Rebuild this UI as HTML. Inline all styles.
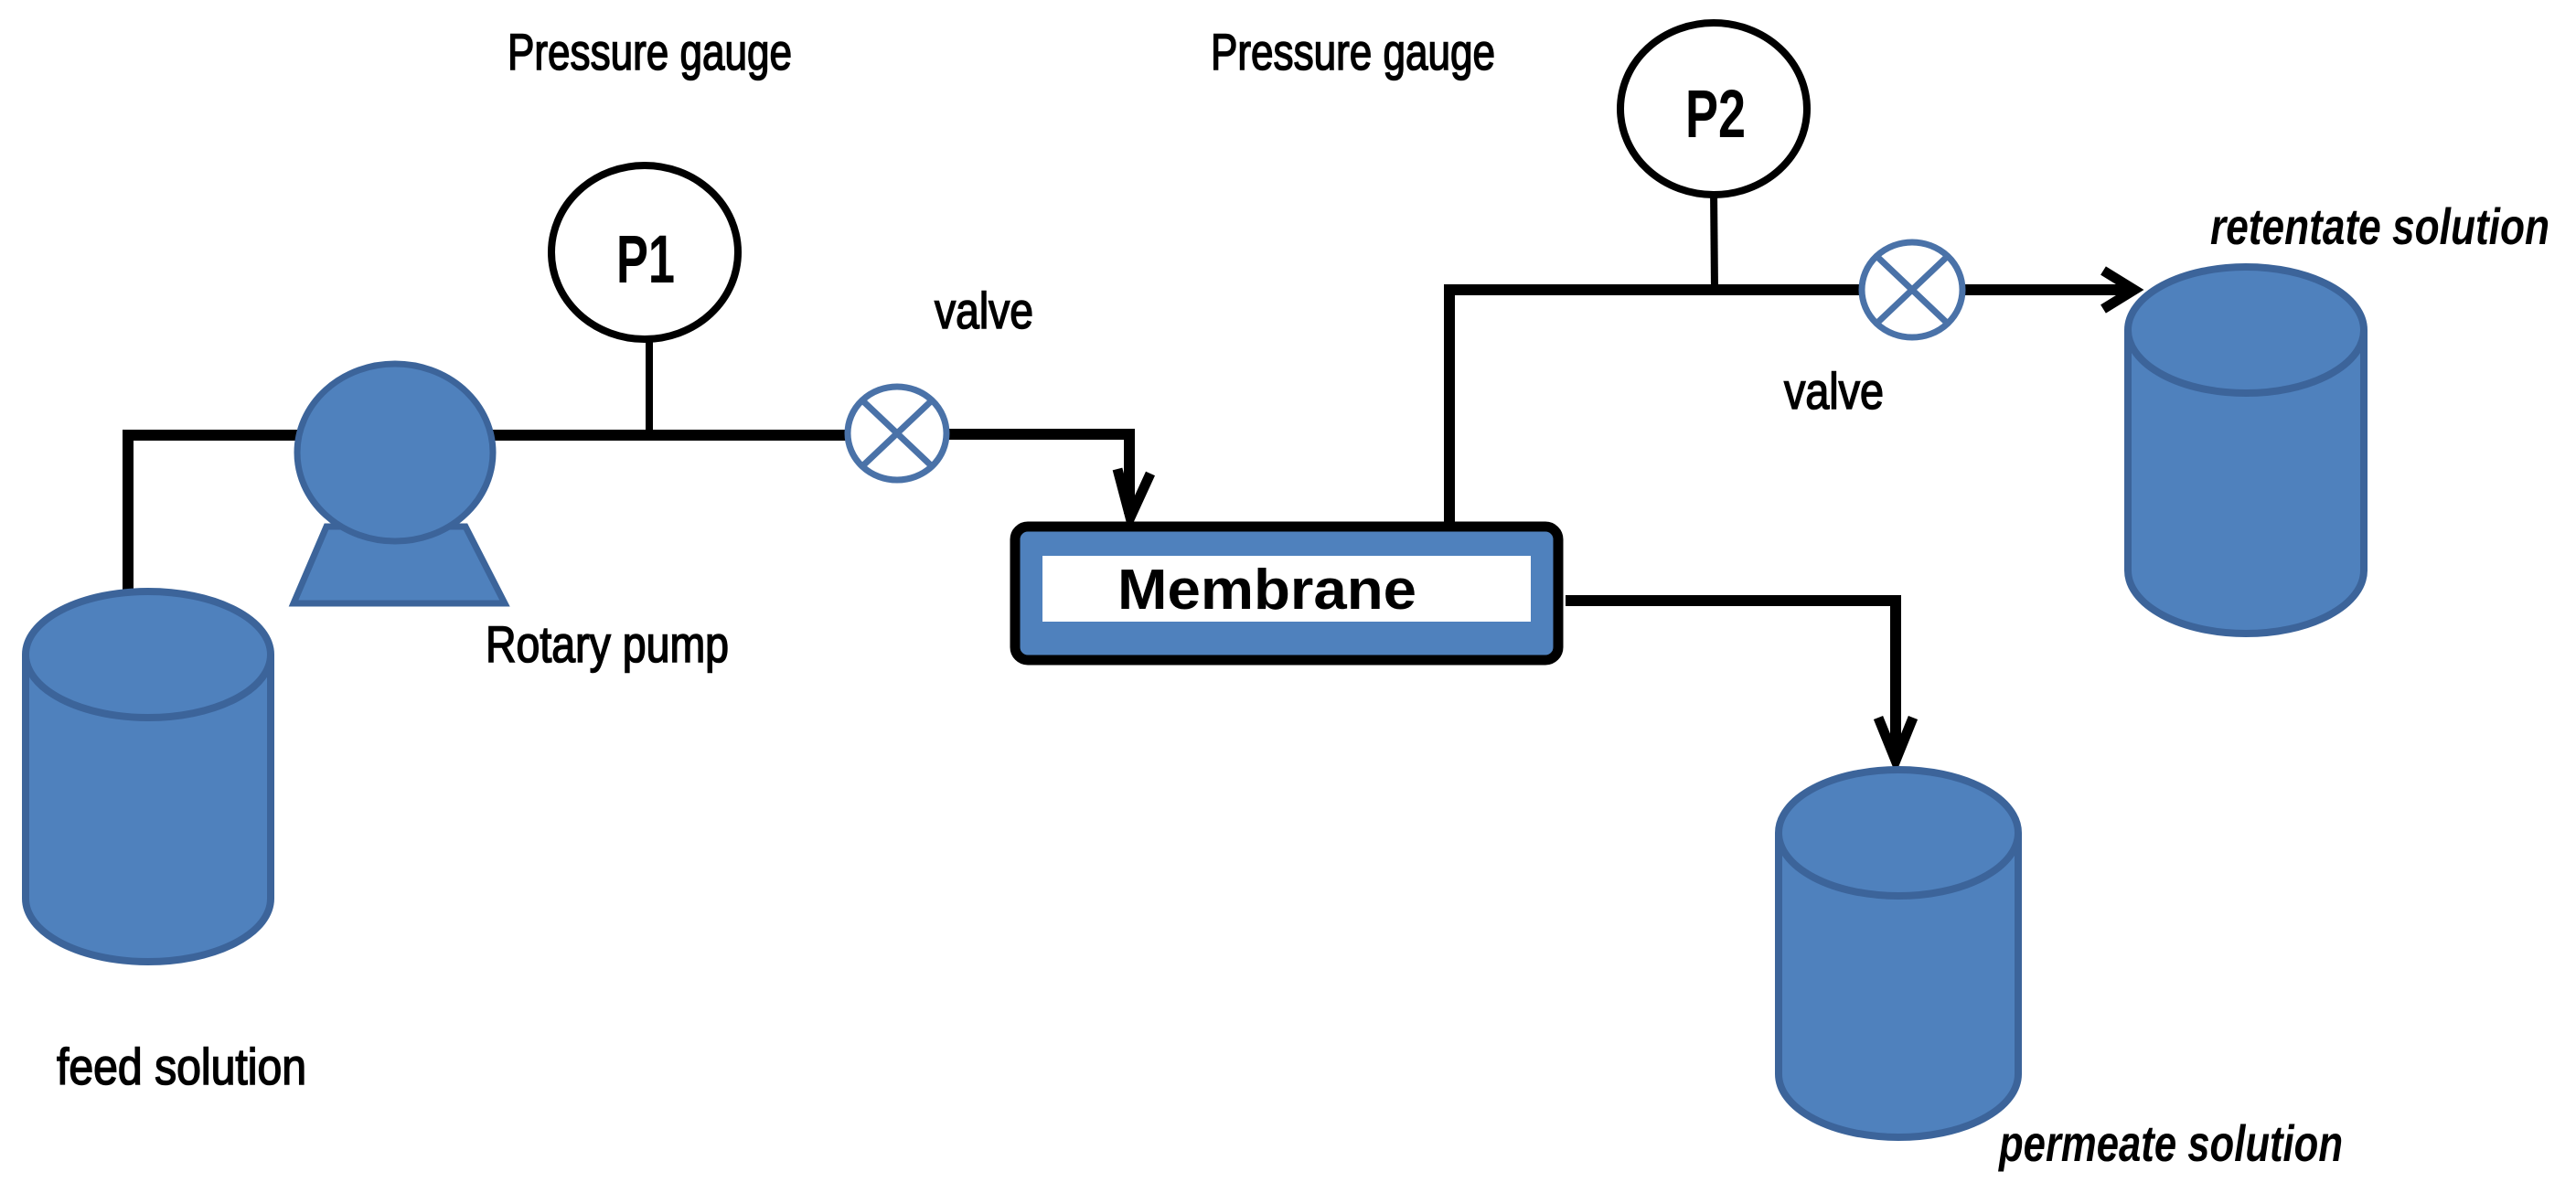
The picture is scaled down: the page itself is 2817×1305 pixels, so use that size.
<!DOCTYPE html>
<html><head><meta charset="utf-8"><style>
html,body{margin:0;padding:0;background:#fff;}
svg{display:block;}
text{font-family:"Liberation Sans Narrow","Liberation Sans",sans-serif;fill:#000;}
.lb{stroke:#000;stroke-width:1.6;}
</style></head><body>
<svg width="2817" height="1305" viewBox="0 0 2817 1305" xmlns="http://www.w3.org/2000/svg">
<g fill="none" stroke="#000" stroke-width="12" stroke-linejoin="miter">
  <polyline points="140,650 140,476 330,476"/>
  <line x1="538" y1="476" x2="928" y2="476"/>
  <line x1="710" y1="372" x2="710" y2="480" stroke-width="8"/>
  <polyline points="1034,475 1235,475 1235,562"/>
  <polyline points="1222,513 1236,566 1258,518" stroke-width="11"/>
  <polyline points="1585,585 1585,317 2034,317"/>
  <line x1="1874" y1="208" x2="1875" y2="317" stroke-width="8"/>
  <line x1="2148" y1="317" x2="2334" y2="317"/>
  <polyline points="2300,296 2334,317 2300,338" stroke-width="11"/>
  <polyline points="1712,657 2073,657 2073,830"/>
  <polyline points="2054,785 2073,832 2092,785" stroke-width="11"/>
</g>
<ellipse cx="705" cy="276" rx="102" ry="95" fill="#fff" stroke="#000" stroke-width="8"/>
<text x="674" y="309" font-size="74" font-weight="bold" textLength="64" lengthAdjust="spacingAndGlyphs">P1</text>
<ellipse cx="1874" cy="119" rx="102" ry="94" fill="#fff" stroke="#000" stroke-width="8"/>
<text x="1843" y="150" font-size="74" font-weight="bold" textLength="66" lengthAdjust="spacingAndGlyphs">P2</text>
<g fill="#fff" stroke="#4a72a8" stroke-width="7">
  <ellipse cx="981" cy="474" rx="54" ry="51"/>
  <line x1="943" y1="438" x2="1019" y2="510"/><line x1="1019" y1="438" x2="943" y2="510"/>
  <ellipse cx="2091" cy="317" rx="55" ry="52"/>
  <line x1="2052" y1="280" x2="2130" y2="354"/><line x1="2130" y1="280" x2="2052" y2="354"/>
</g>
<g fill="#4f81bd" stroke="#3c649a" stroke-width="7">
  <polygon points="357,576 509,576 552,660 321,660"/>
  <ellipse cx="432" cy="495" rx="107" ry="97"/>
</g>
<rect x="1110" y="576" width="594" height="146" rx="14" fill="#4f81bd" stroke="#000" stroke-width="11"/>
<rect x="1140" y="608" width="534" height="72" fill="#fff"/>
<text x="1222" y="666" style="font-family:'Liberation Sans',sans-serif" font-size="62" font-weight="bold" textLength="327" lengthAdjust="spacingAndGlyphs">Membrane</text>
<g fill="#4f81bd" stroke="#3c649a" stroke-width="8">
  <path d="M28,716 L28,983 A134,69 0 0 0 296,983 L296,716"/>
  <ellipse cx="162" cy="716" rx="134" ry="69"/>
  <path d="M2327,361 L2327,624 A129,69 0 0 0 2585,624 L2585,361"/>
  <ellipse cx="2456" cy="361" rx="129" ry="69"/>
  <path d="M1945,911 L1945,1175 A131,69 0 0 0 2207,1175 L2207,911"/>
  <ellipse cx="2076" cy="911" rx="131" ry="69"/>
</g>
<text class="lb" x="555" y="76" font-size="56" textLength="311" lengthAdjust="spacingAndGlyphs">Pressure gauge</text>
<text class="lb" x="1324" y="76" font-size="56" textLength="311" lengthAdjust="spacingAndGlyphs">Pressure gauge</text>
<text class="lb" x="1022" y="359" font-size="56" textLength="108" lengthAdjust="spacingAndGlyphs">valve</text>
<text class="lb" x="531" y="724" font-size="56" textLength="266" lengthAdjust="spacingAndGlyphs">Rotary pump</text>
<text class="lb" x="62" y="1186" font-size="56" textLength="273" lengthAdjust="spacingAndGlyphs">feed solution</text>
<text class="lb" x="1951" y="447" font-size="56" textLength="109" lengthAdjust="spacingAndGlyphs">valve</text>
<text x="2417" y="267" font-size="56" font-weight="bold" font-style="italic" textLength="371" lengthAdjust="spacingAndGlyphs">retentate solution</text>
<text x="2186" y="1270" font-size="56" font-weight="bold" font-style="italic" textLength="376" lengthAdjust="spacingAndGlyphs">permeate solution</text>
</svg>
</body></html>
